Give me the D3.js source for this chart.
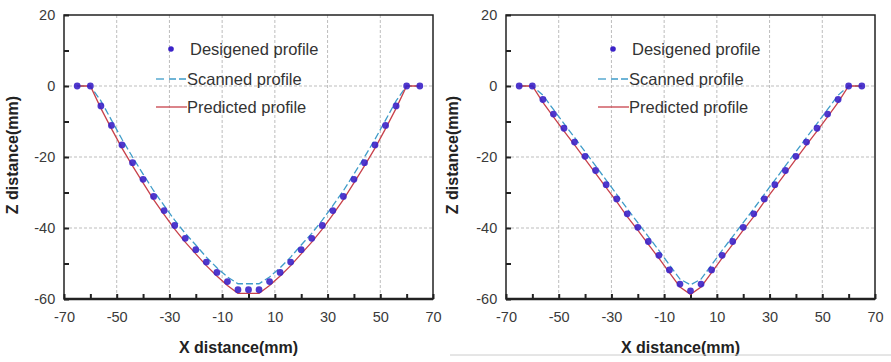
<!DOCTYPE html>
<html>
<head>
<meta charset="utf-8">
<script src="https://cdn.jsdelivr.net/npm/d3@7"></script>
<style>
  body { margin: 0; background: #fff; }
  svg text { font-family: "Liberation Sans", Arial, sans-serif; }
</style>
</head>
<body>
<svg id="chart" width="891" height="362"></svg>
<script>
// x positions of profile points (same for both panels)
const xPts = [-65, -60, -56, -52, -48, -44, -40, -36, -32, -28, -24, -20, -16, -12, -8, -4,
              0, 4, 8, 12, 16, 20, 24, 28, 32, 36, 40, 44, 48, 52, 56, 60, 65];

// left panel: curved cone
const leftDesigned = [0, 0, -5.6, -11.1, -16.6, -21.6, -26.3, -31.1, -35.1, -39.3, -42.9, -46.1, -49.6, -52.5, -55.1, -57.4,
                      -57.4, -57.4, -55.1, -52.5, -49.6, -46.1, -42.9, -39.3, -35.1, -31.1, -26.3, -21.6, -16.6, -11.1, -5.6, 0, 0];
const leftScanned = [0, 0, -4.2, -9.6, -15.0, -20.0, -24.8, -29.5, -33.7, -37.8, -41.5, -44.8, -48.2, -51.2, -53.8, -55.7,
                     -55.7, -55.7, -53.8, -51.2, -48.2, -44.8, -41.5, -37.8, -33.7, -29.5, -24.8, -20.0, -15.0, -9.6, -4.2, 0, 0];
const leftPredicted = [0, 0, -6.3, -12.0, -17.5, -22.5, -27.3, -32.0, -36.2, -40.3, -44.0, -47.3, -50.6, -53.5, -56.2, -58.4,
                       -58.4, -58.4, -56.2, -53.5, -50.6, -47.3, -44.0, -40.3, -36.2, -32.0, -27.3, -22.5, -17.5, -12.0, -6.3, 0, 0];

// right panel: straight cone
const rightDesigned = [0, 0, -3.8, -7.9, -11.9, -15.8, -19.8, -23.8, -27.8, -31.8, -36.0, -39.8, -43.8, -47.7, -51.8, -55.8,
                       -57.7, -55.8, -51.8, -47.7, -43.8, -39.8, -36.0, -31.8, -27.8, -23.8, -19.8, -15.8, -11.9, -7.9, -3.8, 0, 0];
const rightScanned = [0, 0, -2.6, -6.6, -10.6, -14.5, -18.5, -22.5, -26.5, -30.5, -34.6, -38.5, -42.4, -46.3, -50.4, -54.4,
                      -56.0, -54.4, -50.4, -46.3, -42.4, -38.5, -34.6, -30.5, -26.5, -22.5, -18.5, -14.5, -10.6, -6.6, -2.6, 0, 0];
const rightPredicted = [0, 0, -4.6, -8.7, -12.7, -16.6, -20.6, -24.6, -28.6, -32.6, -36.8, -40.6, -44.6, -48.5, -52.6, -56.6,
                        -58.7, -56.6, -52.6, -48.5, -44.6, -40.6, -36.8, -32.6, -28.6, -24.6, -20.6, -16.6, -12.7, -8.7, -4.6, 0, 0];

const xTickVals = [-70, -50, -30, -10, 10, 30, 50, 70];
const xGridVals = [-50, -30, -10, 10, 30, 50];
const yTickVals = [20, 0, -20, -40, -60];
const yGridVals = [0, -20, -40];
const legendLabels = ["Desigened profile", "Scanned profile", "Predicted profile"];

const colors = { designed: "#3b22c8", scanned: "#3f9cc9", predicted: "#c8414b" };

const svg = d3.select("#chart");

function drawPanel(left, designed, scanned, predicted, titleX) {
    const w = 369, top = 15, bottom = 299;
    const x = d3.scaleLinear().domain([-70, 70]).range([left, left + w]);
    const y = d3.scaleLinear().domain([-60, 20]).range([bottom, top]);
    const g = svg.append("g");

    // grid
    g.selectAll(".gx").data(xGridVals).enter().append("line")
        .attr("x1", d => x(d)).attr("x2", d => x(d))
        .attr("y1", top).attr("y2", bottom)
        .attr("stroke", "#bdbdbd").attr("stroke-width", 1).attr("stroke-dasharray", "3,2");
    g.selectAll(".gy").data(yGridVals).enter().append("line")
        .attr("x1", left).attr("x2", left + w)
        .attr("y1", d => y(d)).attr("y2", d => y(d))
        .attr("stroke", "#bdbdbd").attr("stroke-width", 1).attr("stroke-dasharray", "3,2");

    // axes with inward ticks
    const xAxis = d3.axisBottom(x).tickValues(d3.range(-70, 71, 10)).tickSize(-5).tickFormat(d => xTickVals.includes(d) ? d : "");
    const gx = g.append("g").attr("transform", `translate(0,${bottom})`).call(xAxis);
    const yAxis = d3.axisLeft(y).tickValues(d3.range(-60, 21, 10)).tickSize(-5).tickFormat(d => yTickVals.includes(d) ? d : "");
    const gy = g.append("g").attr("transform", `translate(${left},0)`).call(yAxis);
    [gx, gy].forEach(a => {
        a.select(".domain").remove();
        a.selectAll(".tick line").attr("stroke", "#222").attr("stroke-width", 2);
        a.selectAll(".tick text").attr("font-size", 14.5).attr("fill", "#3a3a3a");
    });
    gx.selectAll(".tick text").attr("y", 13).attr("dy", "0.71em");
    gy.selectAll(".tick text").attr("dx", "-0.4em");

    // frame
    g.append("rect").attr("x", left).attr("y", top).attr("width", w).attr("height", bottom - top)
        .attr("fill", "none").attr("stroke", "#222").attr("stroke-width", 1.5);
    g.append("line").attr("x1", left).attr("x2", left + w).attr("y1", bottom).attr("y2", bottom)
        .attr("stroke", "#222").attr("stroke-width", 2.5);

    const line = d3.line().x(d => x(d[0])).y(d => y(d[1]));
    g.append("path").datum(d3.zip(xPts, scanned)).attr("d", line)
        .attr("fill", "none").attr("stroke", colors.scanned).attr("stroke-width", 1.3).attr("stroke-dasharray", "7,3");
    g.append("path").datum(d3.zip(xPts, predicted)).attr("d", line)
        .attr("fill", "none").attr("stroke", colors.predicted).attr("stroke-width", 1.3);
    g.selectAll(".dot").data(d3.zip(xPts, designed)).enter().append("circle")
        .attr("cx", d => x(d[0])).attr("cy", d => y(d[1])).attr("r", 3.4)
        .attr("fill", colors.designed).attr("opacity", 0.9);

    // legend
    const lg = g.append("g").attr("transform", `translate(${left + 92},0)`);
    lg.append("circle").attr("cx", 15).attr("cy", 49).attr("r", 2.8).attr("fill", colors.designed);
    lg.append("line").attr("x1", 0).attr("x2", 8).attr("y1", 79).attr("y2", 79).attr("stroke", colors.scanned).attr("stroke-width", 1.3);
    lg.append("line").attr("x1", 13).attr("x2", 31).attr("y1", 79).attr("y2", 79).attr("stroke", colors.scanned).attr("stroke-width", 1.3).attr("stroke-dasharray", "7,3");
    lg.append("line").attr("x1", 0).attr("x2", 31).attr("y1", 107).attr("y2", 107).attr("stroke", colors.predicted).attr("stroke-width", 1.3);
    lg.selectAll("text").data(legendLabels).enter().append("text")
        .attr("x", (d, i) => i === 0 ? 34 : 31)
        .attr("y", (d, i) => [49, 79, 107][i])
        .attr("dy", "0.35em").attr("font-size", 16.5).attr("fill", "#333").text(d => d);

    // axis titles
    g.append("text").attr("x", left + w / 2 - 10).attr("y", 353).attr("text-anchor", "middle")
        .attr("font-size", 16).attr("font-weight", "bold").attr("fill", "#222").text("X distance(mm)");
    g.append("text").attr("transform", `translate(${titleX},155) rotate(-90)`).attr("text-anchor", "middle")
        .attr("dy", "0.35em").attr("font-size", 16).attr("font-weight", "bold").attr("fill", "#222").text("Z distance(mm)");
}

drawPanel(64, leftDesigned, leftScanned, leftPredicted, 12);
drawPanel(506, rightDesigned, rightScanned, rightPredicted, 452);

// thin separator under right panel
svg.append("line").attr("x1", 450).attr("x2", 891).attr("y1", 355).attr("y2", 355)
    .attr("stroke", "#ccc").attr("stroke-width", 1);
</script>
</body>
</html>
